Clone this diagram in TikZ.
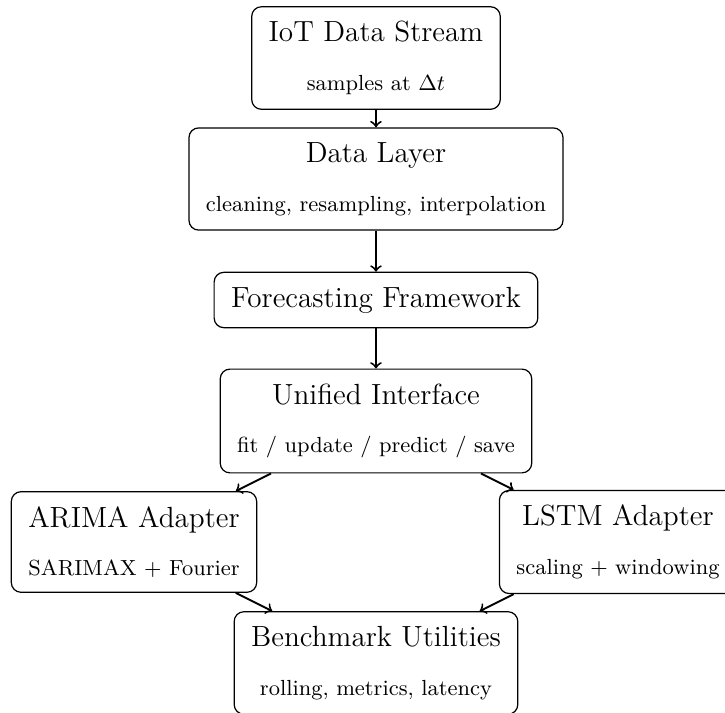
\documentclass[tikz,border=0pt]{standalone}
\usepackage{tikz}

\begin{document}
\begin{tikzpicture}
  \tikzset{
    caja/.style={draw,rounded corners=4pt,align=center,inner xsep=7pt,inner ysep=6pt,line width=0.5pt},
    flecha/.style={draw,->,thick}
  }
  \useasboundingbox (-5.438,-4.223) rectangle (5.048,6.089);
  \node[caja] (iot) at (0,5.25) {{\large IoT Data Stream}\\[8pt]{\small samples at $\Delta t$}};
  \node[caja] (datos) at (0,3.5) {{\large Data Layer}\\[8pt]{\small cleaning, resampling, interpolation}};
  \node[caja] (marco) at (0,1.75) {\large Forecasting Framework};
  \node[caja] (interfaz) at (0,0) {{\large Unified Interface}\\[8pt]{\small fit / update / predict / save}};
  \node[caja] (arima) at (-3.5,-1.75) {{\large ARIMA Adapter}\\[8pt]{\small SARIMAX + Fourier}};
  \node[caja] (lstm) at (3.5,-1.75) {{\large LSTM Adapter}\\[8pt]{\small scaling + windowing}};
  \node[caja] (bench) at (0,-3.5) {{\large Benchmark Utilities}\\[8pt]{\small rolling, metrics, latency}};
  \draw[flecha] (iot) -- (datos);
  \draw[flecha] (datos) -- (marco);
  \draw[flecha] (marco) -- (interfaz);
  \draw[flecha] (interfaz) -- (arima);
  \draw[flecha] (interfaz) -- (lstm);
  \draw[flecha] (arima) -- (bench);
  \draw[flecha] (lstm) -- (bench);
\end{tikzpicture}
\end{document}
